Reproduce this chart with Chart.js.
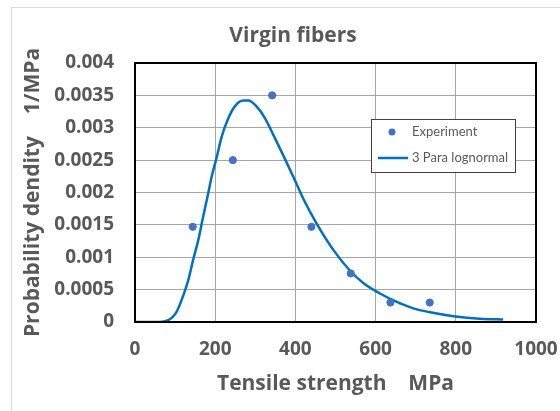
<!DOCTYPE html>
<html>
<head>
<meta charset="utf-8">
<script src="https://cdn.jsdelivr.net/npm/chart.js@4"></script>
<style>
    html, body { margin: 0; padding: 0; background: #ffffff; }
    #wrap { width: 560px; height: 411px; }
</style>
</head>
<body>
<div id="wrap"><canvas id="chart" width="560" height="411"></canvas></div>
<script>
// Experiment points (tensile strength MPa, probability density 1/MPa)
const expX = [144, 244, 342, 440, 538, 637, 735];
const expY = [0.00147, 0.0025, 0.0035, 0.00147, 0.00075, 0.0003, 0.0003];

// 3 parameter lognormal curve
const fitX = [0, 50, 83, 104, 121, 133, 145, 158, 170, 183, 191, 204, 216, 233, 249, 270, 283, 303, 324, 345, 370, 395, 420, 453, 495, 538, 570, 611, 653, 694, 736, 794, 860, 918];
const fitY = [0, 0, 0.00003, 0.00016, 0.00042, 0.00065, 0.00096, 0.00127, 0.00163, 0.002, 0.00224, 0.00255, 0.00286, 0.00315, 0.00333, 0.00342, 0.00342, 0.00333, 0.00315, 0.00289, 0.00257, 0.00224, 0.0019, 0.00152, 0.00111, 0.00078, 0.0006, 0.00044, 0.00031, 0.00021, 0.00015, 0.00009, 0.00005, 0.00004];

const seriesNames = ['Experiment', '3 Para lognormal'];
const chartTitle = 'Virgin fibers';
const xTitle = 'Tensile strength    MPa';
const yTitle = 'Probability dendity    1/MPa';

const textGray = '#595959';
const boldFont = '"Open Sans", Lato, sans-serif';
const legendFont = 'Lato, "Open Sans", sans-serif';

// light frame round the whole chart, title over the frame, box round the plot, legend inside the plot
const framePlugin = {
    id: 'frame',
    beforeDraw(chart) {
        const ctx = chart.ctx;
        ctx.save();
        ctx.strokeStyle = '#d9d9d9';
        ctx.lineWidth = 1;
        ctx.strokeRect(11.5, 7.5, 600, 500);
        // Excel centres the title on the whole chart frame, not on the plot
        ctx.font = 'bold 21px ' + boldFont;
        ctx.fillStyle = textGray;
        ctx.textAlign = 'center';
        ctx.textBaseline = 'middle';
        ctx.fillText(chartTitle, 293, 36);
        ctx.restore();
    },
    afterDatasetsDraw(chart) {
        const ctx = chart.ctx;
        const a = chart.chartArea;
        ctx.save();
        ctx.strokeStyle = '#000000';
        ctx.lineWidth = 2;
        ctx.strokeRect(a.left, a.top, a.right - a.left, a.bottom - a.top);

        // legend
        const bx = 371.5, by = 119.5, bw = 144, bh = 53;
        ctx.fillStyle = '#ffffff';
        ctx.fillRect(bx, by, bw, bh);
        ctx.strokeStyle = '#404040';
        ctx.lineWidth = 1;
        ctx.strokeRect(bx, by, bw, bh);
        ctx.font = '13px ' + legendFont;
        ctx.fillStyle = textGray;
        ctx.textBaseline = 'middle';
        ctx.textAlign = 'left';
        ctx.fillText(seriesNames[0], 412, 132);
        ctx.fillText(seriesNames[1], 412, 158);
        ctx.fillStyle = '#4472c4';
        ctx.beginPath();
        ctx.arc(392, 132, 3.5, 0, Math.PI * 2);
        ctx.fill();
        ctx.strokeStyle = '#0070c0';
        ctx.lineWidth = 2.5;
        ctx.beginPath();
        ctx.moveTo(378, 158);
        ctx.lineTo(408, 158);
        ctx.stroke();
        ctx.restore();
    }
};

new Chart(document.getElementById('chart'), {
    type: 'scatter',
    data: {
        datasets: [
            {
                label: seriesNames[0],
                data: expX.map((x, i) => ({ x: x, y: expY[i] })),
                backgroundColor: '#4472c4',
                borderColor: '#4472c4',
                pointRadius: 3.6,
                showLine: false,
                order: 0
            },
            {
                label: seriesNames[1],
                data: fitX.map((x, i) => ({ x: x, y: fitY[i] })),
                borderColor: '#0070c0',
                backgroundColor: '#0070c0',
                borderWidth: 2.5,
                pointRadius: 0,
                showLine: true,
                cubicInterpolationMode: 'monotone',
                order: 1
            }
        ]
    },
    options: {
        responsive: false,
        animation: false,
        layout: { padding: { left: 0, right: 24, top: 63, bottom: 0 } },
        plugins: {
            legend: { display: false },
            tooltip: { enabled: false },
            title: { display: false }
        },
        scales: {
            x: {
                type: 'linear',
                min: 0,
                max: 1000,
                ticks: {
                    stepSize: 200,
                    padding: 16,
                    color: textGray,
                    font: { family: boldFont, size: 19, weight: 'bold' },
                    callback: v => String(v)
                },
                grid: { color: '#a6a6a6', drawTicks: false },
                border: { display: false },
                title: {
                    display: true,
                    text: xTitle,
                    color: textGray,
                    font: { family: boldFont, size: 21, weight: 'bold' },
                    padding: { top: 0, bottom: 14 }
                },
                afterFit(scale) {
                    scale.height = 89;
                    scale.paddingRight = 0;
                    scale.paddingLeft = 0;
                }
            },
            y: {
                type: 'linear',
                min: 0,
                max: 0.004,
                ticks: {
                    stepSize: 0.0005,
                    padding: 21,
                    color: textGray,
                    font: { family: boldFont, size: 19, weight: 'bold' },
                    callback: v => Number(v.toFixed(4)).toString()
                },
                grid: { color: '#a6a6a6', drawTicks: false },
                border: { display: false },
                title: {
                    display: true,
                    text: yTitle,
                    color: textGray,
                    font: { family: boldFont, size: 21, weight: 'bold' },
                    padding: { top: 20, bottom: 0 }
                },
                afterFit(scale) {
                    scale.width = 135;
                    scale.paddingTop = 0;
                    scale.paddingBottom = 0;
                }
            }
        }
    },
    plugins: [framePlugin]
});
</script>
</body>
</html>
